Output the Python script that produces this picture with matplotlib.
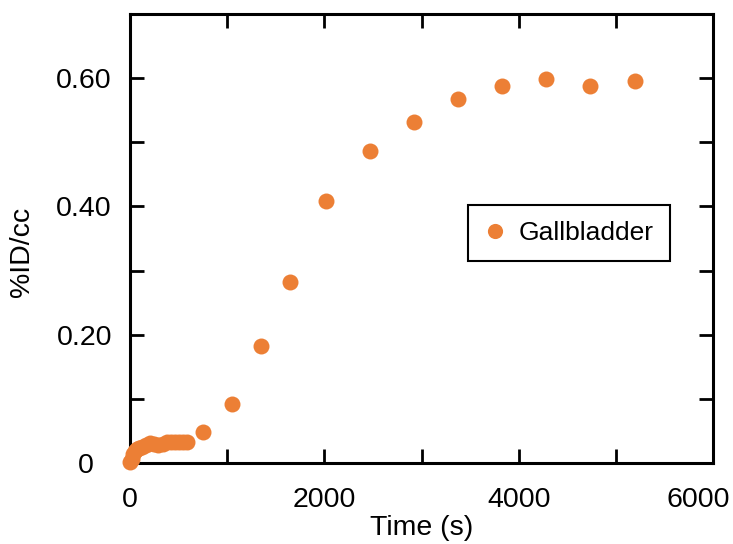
import matplotlib
matplotlib.use("Agg")
import matplotlib.pyplot as plt
import matplotlib.transforms as mtransforms

plt.rcParams['font.family'] = ['Liberation Sans', 'DejaVu Sans']

time_s = [0, 17, 34, 52, 69, 95, 120, 160, 206, 250, 291, 335, 377, 420, 463, 505, 549, 590,
          751, 1050, 1348, 1647, 2017, 2470, 2923, 3376, 3828, 4281, 4734, 5197]
pct_id_cc = [0.002, 0.006, 0.014, 0.019, 0.022, 0.024, 0.025, 0.028, 0.031, 0.029, 0.028, 0.030,
             0.033, 0.032, 0.032, 0.033, 0.033, 0.033,
             0.048, 0.092, 0.182, 0.282, 0.408, 0.486, 0.532, 0.567, 0.588, 0.598, 0.588, 0.596]

xticks = [0, 1000, 2000, 3000, 4000, 5000, 6000]
xticklabels = ["0", "", "2000", "", "4000", "", "6000"]
yticks = [0, 0.1, 0.2, 0.3, 0.4, 0.5, 0.6, 0.7]
yticklabels = ["0", "", "0.20", "", "0.40", "", "0.60", ""]

color = '#EC7F35'
fs = 20.5

fig = plt.figure(figsize=(7.33, 5.44), dpi=100)
ax = fig.add_axes([130/733, (544-463)/544, (713-130)/733, (463-14)/544])

ax.plot(time_s, pct_id_cc, linestyle='none', marker='o', markersize=11.5,
        color=color, markeredgewidth=0, clip_on=False, label='Gallbladder', zorder=3)

ax.set_xlim(0, 6000)
ax.set_ylim(0, 0.7)
ax.set_xticks(xticks)
ax.set_xticklabels(xticklabels)
ax.set_yticks(yticks)
ax.set_yticklabels(yticklabels)

ax.tick_params(direction='in', length=10, width=2, top=True, right=True,
               labelsize=fs, colors='black')
ax.tick_params(axis='x', pad=17)
ax.tick_params(axis='y', pad=13)
for s in ax.spines.values():
    s.set_linewidth(2.2)

# shift edge labels as in the reference
lbl = ax.get_xticklabels()[-1]
lbl.set_transform(lbl.get_transform() + mtransforms.ScaledTranslation(-15/100, 0, fig.dpi_scale_trans))
lbl0 = ax.get_yticklabels()[0]
lbl0.set_transform(lbl0.get_transform() + mtransforms.ScaledTranslation(-18/100, 0, fig.dpi_scale_trans))

ax.set_xlabel('Time (s)', fontsize=fs, labelpad=2)
ax.set_ylabel('%ID/cc', fontsize=fs)
ax.yaxis.set_label_coords(-0.163, 0.47)

leg = ax.legend(loc='center', bbox_to_anchor=(0.753, 0.512), fontsize=19,
                frameon=True, fancybox=False, edgecolor='black', framealpha=1,
                handletextpad=0.5, handlelength=0.8, borderpad=0.62, markerscale=0.95)
leg.get_frame().set_linewidth(1.5)

fig.savefig('out.png', dpi=100)
